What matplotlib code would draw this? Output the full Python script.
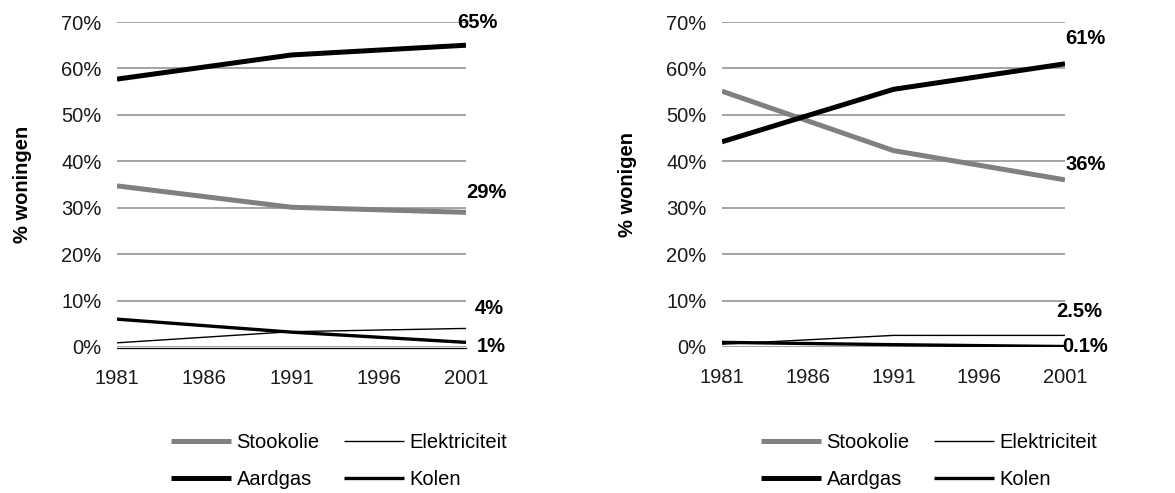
import matplotlib
matplotlib.use("Agg")
import matplotlib.pyplot as plt
from matplotlib.ticker import FuncFormatter

plt.rcParams['font.family'] = ['Liberation Sans', 'DejaVu Sans']

years = [1981, 1991, 2001]
year_ticks = [1981, 1986, 1991, 1996, 2001]
y_ticks = [0, 10, 20, 30, 40, 50, 60, 70]

# Left panel (% woningen)
left_stookolie = [34.7, 30.1, 29.0]
left_elektriciteit = [0.9, 3.3, 4.0]
left_aardgas = [57.7, 62.9, 65.0]
left_kolen = [6.0, 3.2, 1.0]
left_labels = ["65%", "29%", "4%", "1%"]

# Right panel (% wonigen)
right_stookolie = [55.1, 42.3, 36.0]
right_elektriciteit = [0.6, 2.5, 2.5]
right_aardgas = [44.2, 55.5, 61.0]
right_kolen = [1.0, 0.5, 0.1]
right_labels = ["61%", "36%", "2.5%", "0.1%"]

series_names = ["Stookolie", "Elektriciteit", "Aardgas", "Kolen"]
styles = {
    "Stookolie": dict(color="#808080", lw=3.6),
    "Elektriciteit": dict(color="black", lw=1.0),
    "Aardgas": dict(color="black", lw=3.6),
    "Kolen": dict(color="black", lw=2.4),
}

FS = 14.5
W, H = 1175, 493
fig = plt.figure(figsize=(W / 100, H / 100), dpi=100)


def panel(x0, x1, data, labels, ylabel, label_offsets, bottom_spine):
    ax = fig.add_axes([x0 / W, (H - 347) / H, (x1 - x0) / W, 325 / H])
    for y in y_ticks:
        ax.axhline(y, color="#8c8c8c", lw=1.1, zorder=1)
    handles = {}
    for name in series_names:
        h, = ax.plot(years, data[name], solid_capstyle="butt", zorder=3, **styles[name])
        handles[name] = h
    ax.set_xlim(1981, 2001)
    ax.set_ylim(0, 70)
    ax.set_xticks(year_ticks)
    ax.set_yticks(y_ticks)
    ax.yaxis.set_major_formatter(FuncFormatter(lambda v, p: f"{int(v)}%"))
    ax.tick_params(length=0, labelsize=FS, colors="#1a1a1a")
    ax.tick_params(axis="y", pad=11)
    ax.tick_params(axis="x", pad=15)
    for s in ["top", "right", "left", "bottom"]:
        ax.spines[s].set_visible(False)
    if bottom_spine:
        ax.spines["bottom"].set_visible(True)
        ax.spines["bottom"].set_color("black")
        ax.spines["bottom"].set_linewidth(0.9)
        ax.spines["bottom"].set_position(("data", -0.3))
    ax.set_ylabel(ylabel, fontsize=FS, fontweight="bold", labelpad=21)
    # value labels at the last year
    order = ["Aardgas", "Stookolie", "Elektriciteit", "Kolen"]
    for name, txt, (dx, dy) in zip(order, labels, label_offsets):
        ax.annotate(txt, xy=(2001, data[name][-1]), xytext=(dx, dy),
                    textcoords="offset points", fontsize=FS, fontweight="bold",
                    ha="left", va="center", annotation_clip=False)
    return ax, handles


left_data = {"Stookolie": left_stookolie, "Elektriciteit": left_elektriciteit,
             "Aardgas": left_aardgas, "Kolen": left_kolen}
right_data = {"Stookolie": right_stookolie, "Elektriciteit": right_elektriciteit,
              "Aardgas": right_aardgas, "Kolen": right_kolen}

axl, hl = panel(117, 466, left_data, left_labels, "% woningen",
                [(-6, 16), (0, 14), (6.5, 14.5), (8, -3)], True)
axr, hr = panel(722, 1065, right_data, right_labels, "% wonigen",
                [(0, 18), (0, 11), (-6, 17), (-2, 0)], False)

for hs, cx in [(hl, 339), (hr, 929)]:
    fig.legend([hs["Stookolie"], hs["Aardgas"], hs["Elektriciteit"], hs["Kolen"]],
               ["Stookolie", "Aardgas", "Elektriciteit", "Kolen"],
               ncol=2, loc="center", bbox_to_anchor=(cx / W, 1 - 461 / H),
               frameon=False, fontsize=FS, handlelength=3.0, handletextpad=0.25,
               columnspacing=1.2, labelspacing=0.9)

fig.savefig("out.png", dpi=100)
